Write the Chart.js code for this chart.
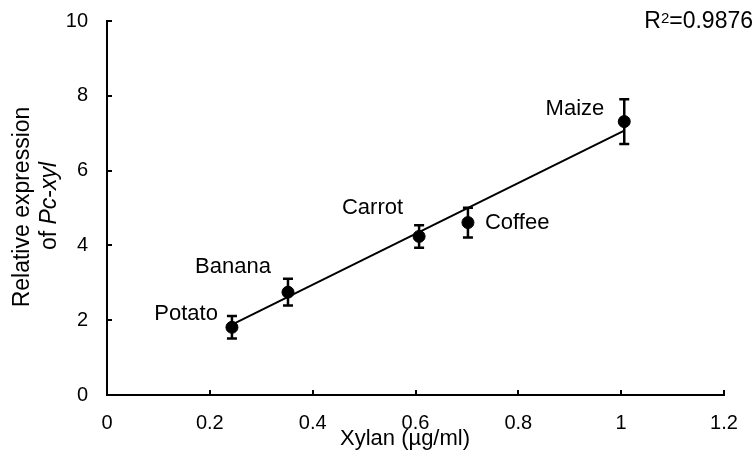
<!DOCTYPE html>
<html>
<head>
<meta charset="utf-8">
<script src="https://cdn.jsdelivr.net/npm/chart.js@4.4.1/dist/chart.umd.min.js"></script>
<style>
  html, body { margin: 0; padding: 0; background: #fff; }
  #wrap { width: 756px; height: 458px; }
</style>
</head>
<body>
<div id="wrap"><canvas id="xylChart"></canvas></div>
<script>
// samples, xylan concentration and relative Pc-xyl expression (mean, error)
var samples = ["Potato", "Banana", "Carrot", "Coffee", "Maize"];
var xylan = [0.243, 0.352, 0.607, 0.702, 1.006];
var expression = [1.81, 2.75, 4.24, 4.61, 7.31];
var errors = [0.30, 0.36, 0.30, 0.40, 0.60];

// linear fit, drawn between first and last sample
var fitX = [0.243, 1.006];
var fitY = [1.88, 7.07];
var r2 = "0.9876";

var xTicks = [0, 0.2, 0.4, 0.6, 0.8, 1, 1.2];
var yTicks = [0, 2, 4, 6, 8, 10];

var FONT = "'Liberation Sans', Arial, sans-serif";

// where each sample name sits relative to its point
var labelPlace = {
  Potato: { align: "right",  dx: -14, dy: -13 },
  Banana: { align: "center", dx: -55, dy: -25 },
  Carrot: { align: "right",  dx: -16, dy: -28 },
  Coffee: { align: "left",   dx: 17,  dy: 0 },
  Maize:  { align: "right",  dx: -20, dy: -13 }
};

var extras = {
  id: "extras",
  beforeDatasetsDraw: function (chart) {
    var ctx = chart.ctx, xs = chart.scales.x, ys = chart.scales.y;
    ctx.save();
    ctx.strokeStyle = "#000";
    ctx.lineWidth = 2.5;
    for (var i = 0; i < xylan.length; i++) {
      var px = xs.getPixelForValue(xylan[i]);
      var top = ys.getPixelForValue(expression[i] + errors[i]);
      var bot = ys.getPixelForValue(expression[i] - errors[i]);
      ctx.beginPath();
      ctx.moveTo(px, top); ctx.lineTo(px, bot);
      ctx.moveTo(px - 5, top); ctx.lineTo(px + 5, top);
      ctx.moveTo(px - 5, bot); ctx.lineTo(px + 5, bot);
      ctx.stroke();
    }
    ctx.restore();
  },
  afterDraw: function (chart) {
    var ctx = chart.ctx, xs = chart.scales.x, ys = chart.scales.y;
    var area = chart.chartArea;
    ctx.save();

    // inward tick marks
    ctx.strokeStyle = "#000";
    ctx.lineWidth = 2;
    ctx.beginPath();
    xTicks.forEach(function (v) {
      var px = Math.round(xs.getPixelForValue(v));
      ctx.moveTo(px, area.bottom); ctx.lineTo(px, area.bottom - 5);
    });
    yTicks.forEach(function (v) {
      var py = Math.round(ys.getPixelForValue(v));
      ctx.moveTo(area.left, py); ctx.lineTo(area.left + 5, py);
    });
    ctx.stroke();

    // sample names
    ctx.fillStyle = "#000";
    ctx.font = "22px " + FONT;
    ctx.textBaseline = "middle";
    samples.forEach(function (name, i) {
      var p = labelPlace[name];
      ctx.textAlign = p.align;
      ctx.fillText(name, xs.getPixelForValue(xylan[i]) + p.dx,
                   ys.getPixelForValue(expression[i]) + p.dy);
    });

    // x axis title
    ctx.textAlign = "center";
    ctx.font = "22px " + FONT;
    ctx.fillText("Xylan (\u00b5g/ml)", 405, 439);

    // y axis title, two lines, gene name in italics
    ctx.font = "23px " + FONT;
    ctx.save();
    ctx.translate(23, 207);
    ctx.rotate(-Math.PI / 2);
    ctx.fillText("Relative expression", 0, 0);
    ctx.restore();

    var parts = [["of ", false], ["Pc", true], ["-", false], ["xyl", true]];
    var total = 0;
    parts.forEach(function (s) {
      ctx.font = (s[1] ? "italic " : "") + "23px " + FONT;
      total += ctx.measureText(s[0]).width;
    });
    ctx.save();
    ctx.translate(50, 206);
    ctx.rotate(-Math.PI / 2);
    ctx.textAlign = "left";
    var cx = -total / 2;
    parts.forEach(function (s) {
      ctx.font = (s[1] ? "italic " : "") + "23px " + FONT;
      ctx.fillText(s[0], cx, 0);
      cx += ctx.measureText(s[0]).width;
    });
    ctx.restore();

    // R squared of the fit
    ctx.textBaseline = "alphabetic";
    ctx.textAlign = "left";
    ctx.font = "23px " + FONT;
    var wR = ctx.measureText("R").width;
    var wRest = ctx.measureText("=" + r2).width;
    ctx.font = "15px " + FONT;
    var wSup = ctx.measureText("2").width;
    var x0 = 753 - (wR + wSup + wRest);
    ctx.font = "23px " + FONT;
    ctx.fillText("R", x0, 28);
    ctx.font = "15px " + FONT;
    ctx.fillText("2", x0 + wR, 23);
    ctx.font = "23px " + FONT;
    ctx.fillText("=" + r2, x0 + wR + wSup, 28);

    ctx.restore();
  }
};

var ctx = document.getElementById("xylChart");

var xylChart = new Chart(ctx, {
  type: "scatter",
  data: {
    datasets: [
      {
        label: "Samples",
        data: xylan.map(function (x, i) { return { x: x, y: expression[i] }; }),
        backgroundColor: "#000",
        borderColor: "#000",
        borderWidth: 1,
        pointRadius: 6,
        order: 0
      },
      {
        type: "line",
        label: "Fit",
        data: fitX.map(function (x, i) { return { x: x, y: fitY[i] }; }),
        borderColor: "#000",
        borderWidth: 2,
        pointRadius: 0,
        fill: false,
        order: 1
      }
    ]
  },
  options: {
    responsive: true,
    maintainAspectRatio: false,
    animation: false,
    layout: { padding: { top: 21, right: 32, left: 0, bottom: 0 } },
    plugins: { legend: { display: false }, tooltip: { enabled: false } },
    scales: {
      x: {
        type: "linear",
        min: 0,
        max: 1.2,
        afterBuildTicks: function (s) { s.ticks = xTicks.map(function (v) { return { value: v }; }); },
        afterFit: function (s) { s.height = 63; },
        grid: { display: false, drawTicks: false },
        border: { display: true, color: "#000", width: 2 },
        ticks: {
          color: "#000",
          padding: 16,
          maxRotation: 0,
          font: { family: FONT, size: 20 },
          callback: function (v) { return String(v); }
        }
      },
      y: {
        type: "linear",
        min: 0,
        max: 10,
        afterBuildTicks: function (s) { s.ticks = yTicks.map(function (v) { return { value: v }; }); },
        afterFit: function (s) {
          s.width = 107;
          // tick padding is horizontal here, keep it out of the top/bottom overflow
          s.paddingTop = 12;
          s.paddingBottom = 12;
        },
        grid: { display: false, drawTicks: false },
        border: { display: true, color: "#000", width: 2 },
        ticks: {
          color: "#000",
          padding: 19,
          font: { family: FONT, size: 20 },
          callback: function (v) { return String(v); }
        }
      }
    }
  },
  plugins: [extras]
});
</script>
</body>
</html>
